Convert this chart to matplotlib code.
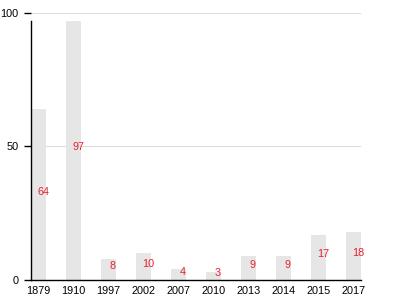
import matplotlib
matplotlib.use("Agg")
import matplotlib.pyplot as plt
import numpy as np

years = ["1879", "1910", "1997", "2002", "2007", "2010", "2013", "2014", "2015", "2017"]
values = [64, 97, 8, 10, 4, 3, 9, 9, 17, 18]
y_ticks = [0, 50, 100]

plt.rcParams['font.family'] = ['Liberation Sans', 'DejaVu Sans']

fig = plt.figure(figsize=(4, 3), dpi=100)
ax = fig.add_axes([0.0775, 0.0667, 0.825, 0.89])

x = np.arange(len(years))
w = 0.43
ax.bar(x, values, width=w, color="#e6e6e6", zorder=2)
for xi, v in zip(x, values):
    ax.annotate(str(v), xy=(xi, v / 2), xytext=(4.5, 3), textcoords="offset pixels",
                color="#e8202f", fontsize=7.8, ha="center", va="center", zorder=3)

ax.set_xlim(-w / 2, len(years) - 1 + w / 2)
ax.set_ylim(0, 100)
ax.set_yticks(y_ticks)
ax.set_yticklabels([str(t) for t in y_ticks], fontsize=7.8)
ax.set_xticks(x)
ax.set_xticklabels(years, fontsize=7.8)
ax.tick_params(axis="x", length=0, pad=4)
ax.tick_params(axis="y", length=5, width=1, pad=4)
ax.grid(axis="y", color="#dddddd", linewidth=0.8, zorder=0)
ax.set_axisbelow(True)
for s in ["top", "right"]:
    ax.spines[s].set_visible(False)
ax.spines["left"].set_bounds(0, max(values))
ax.spines["left"].set_linewidth(1)
ax.spines["bottom"].set_linewidth(1)

fig.savefig("out.png", dpi=100)
